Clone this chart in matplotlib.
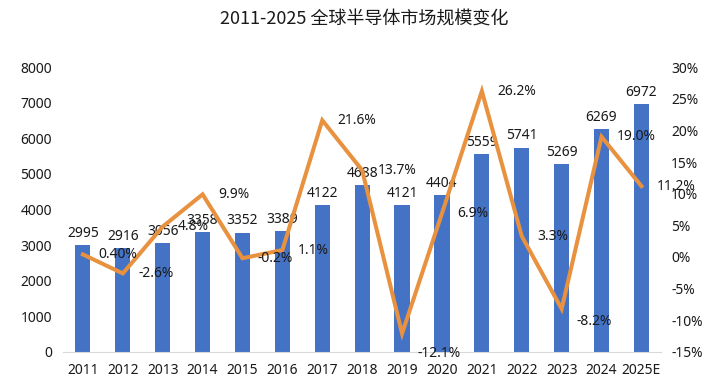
import matplotlib
matplotlib.use("Agg")
import matplotlib.pyplot as plt
import numpy as np

plt.rcParams["font.family"] = ["Noto Sans", "Noto Sans CJK SC", "DejaVu Sans"]

years = ["2011", "2012", "2013", "2014", "2015", "2016", "2017", "2018",
         "2019", "2020", "2021", "2022", "2023", "2024", "2025E"]
market_size = [2995, 2916, 3056, 3358, 3352, 3389, 4122, 4688,
               4121, 4404, 5559, 5741, 5269, 6269, 6972]
growth = [0.4, -2.6, 4.8, 9.9, -0.2, 1.1, 21.6, 13.7,
          -12.1, 6.9, 26.2, 3.3, -8.2, 19.0, 11.2]
growth_labels = ["0.40%", "-2.6%", "4.8%", "9.9%", "-0.2%", "1.1%", "21.6%", "13.7%",
                 "-12.1%", "6.9%", "26.2%", "3.3%", "-8.2%", "19.0%", "11.2%"]

bar_color = "#4472C4"
line_color = "#E8913F"

fig = plt.figure(figsize=(7.28, 3.88), dpi=100)
ax = fig.add_axes([0.0865, 0.093, 0.822, 0.734])
ax2 = ax.twinx()

x = np.arange(len(years))
bars = ax.bar(x, market_size, width=0.38, color=bar_color, zorder=2)
ax.bar_label(bars, labels=[str(v) for v in market_size], padding=3,
             fontsize=10, color="#1a1a1a")

ax.set_ylim(0, 8000)
ax.set_yticks(range(0, 8001, 1000))
ax.set_xlim(-0.5, len(years) - 0.5)
ax.set_xticks(x)
ax.set_xticklabels(years)
ax.tick_params(axis="both", length=0, labelsize=10, colors="#1a1a1a")
ax.tick_params(axis="x", pad=8)
ax.tick_params(axis="y", pad=8)
for s in ["top", "left", "right"]:
    ax.spines[s].set_visible(False)
ax.spines["bottom"].set_color("#D9D9D9")

ax2.plot(x, growth, color=line_color, lw=2.9, zorder=3, solid_joinstyle="miter")
ax2.set_ylim(-15, 30)
ax2.set_yticks(range(-15, 31, 5))
ax2.set_yticklabels([f"{v}%" for v in range(-15, 31, 5)])
ax2.tick_params(axis="y", length=0, labelsize=10, colors="#1a1a1a", pad=7)
for s in ax2.spines.values():
    s.set_visible(False)

# label nudges (points) for the two dips
dy = {8: -14, 12: -9}
for i, (g, lab) in enumerate(zip(growth, growth_labels)):
    ax2.annotate(lab, (x[i], g), xytext=(11, dy.get(i, 0)), textcoords="offset points",
                 ha="left", va="center", fontsize=10, color="#1a1a1a", zorder=4)

fig.suptitle("2011-2025 全球半导体市场规模变化", y=0.972, fontsize=13,
             family=["Noto Sans CJK SC", "DejaVu Sans"], color="#1a1a1a")

fig.savefig("out.png", dpi=100, facecolor="white")
